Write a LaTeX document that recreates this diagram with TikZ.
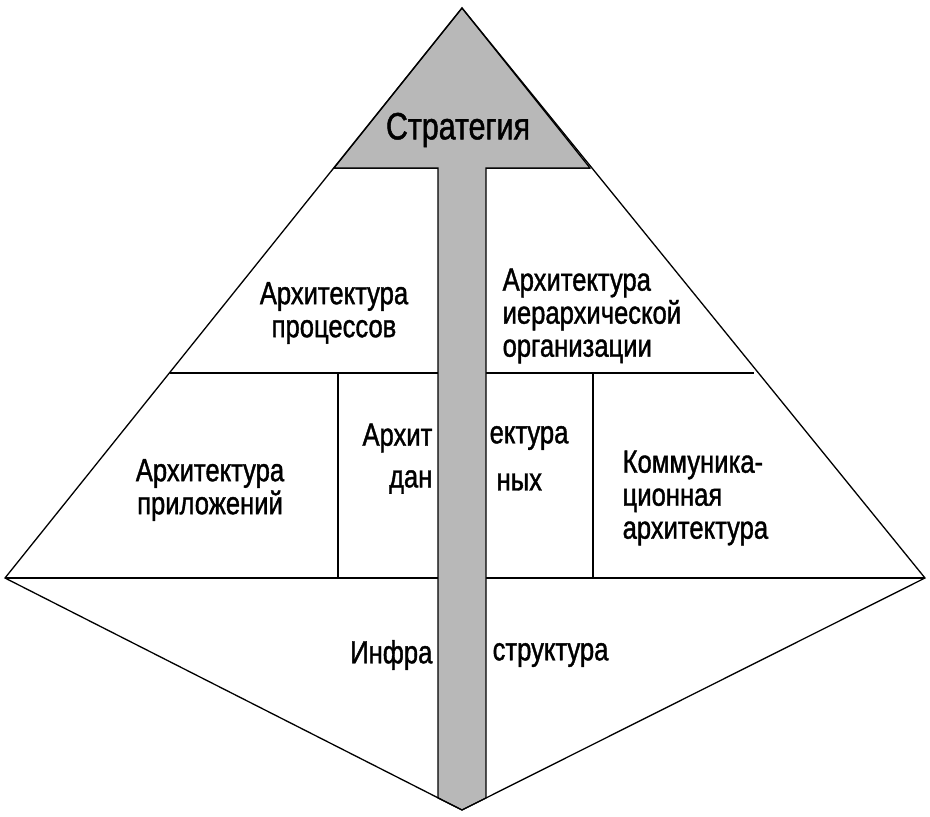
\documentclass[tikz,border=0pt]{standalone}
\usepackage{fontspec}
\setmainfont{Liberation Sans}[FakeStretch=0.8,FakeBold=1.2]
\begin{document}
\begin{tikzpicture}[x=1pt,y=-1pt,line width=1.3pt,
  lbl/.style={font=\fontsize{32}{33}\selectfont,inner sep=0pt,align=center}]
\useasboundingbox (0,0) rectangle (930,817);
\coordinate (A) at (462,8);
\coordinate (L) at (5,578);
\coordinate (R) at (925,578);
\coordinate (B) at (462,810);
% lines
\draw (334,168) -- (590,168);
\draw (170,373) -- (754,373);
\draw (338,373) -- (338,578);
\draw (593,373) -- (593,578);
\draw (L) -- (R);
% gray strategy shape and bar
\draw[fill=black!28] (A) -- (334,168) -- (438,168) -- (438,798) -- (B) -- (486,798) -- (486,168) -- (590,168) -- cycle;
\draw (A) -- (L) -- (B) -- (R) -- cycle;
% texts
\node[lbl,font=\fontsize{38}{40}\selectfont] (s) at (458,130) {Стратегия};
\node[lbl] (p) at (334,313) {Архитектура\\процессов};
\node[lbl,align=left,anchor=west] (h) at (502,316) {Архитектура\\иерархической\\организации};
\node[lbl,anchor=east] (d1) at (433,438) {Архит};
\node[lbl,anchor=east] (d2) at (433,482) {дан};
\node[lbl,anchor=west] (d3) at (489,438) {ектура};
\node[lbl,anchor=west] (d4) at (496,482) {ных};
\node[lbl] (ap) at (210,490) {Архитектура\\приложений};
\node[lbl,align=left,anchor=west] (k) at (622,498) {Коммуника-\\ционная\\архитектура};
\node[lbl,anchor=east] (i1) at (433,655) {Инфра};
\node[lbl,anchor=west] (i2) at (492,655) {структура};
\end{tikzpicture}
\end{document}
